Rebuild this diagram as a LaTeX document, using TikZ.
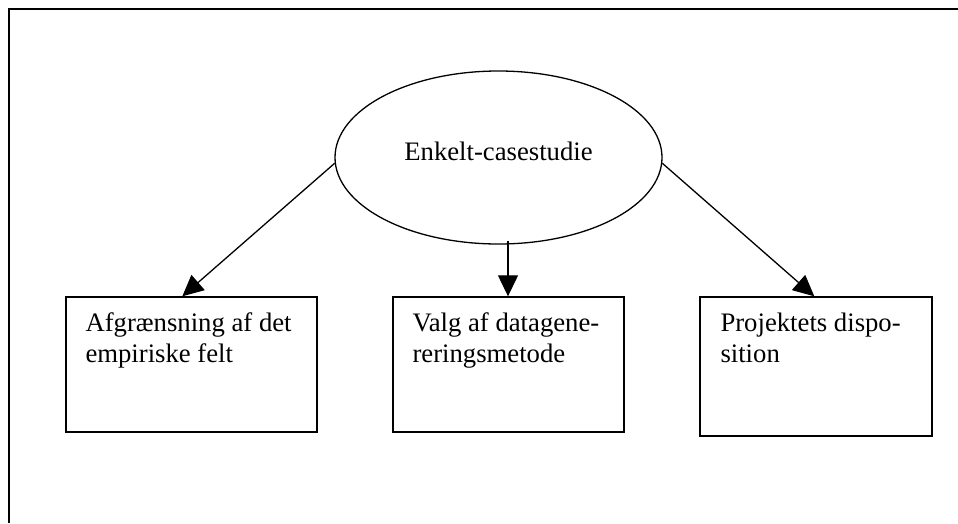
\documentclass[tikz,border=0pt]{standalone}
\usepackage{fontspec}
\setmainfont{Liberation Serif}
\usetikzlibrary{arrows.meta,shapes.geometric,calc}

\begin{document}
\begin{tikzpicture}[x=1pt,y=-1pt,
  every node/.style={font=\fontsize{26.7}{30.8}\selectfont},
  boxnode/.style={draw=black,line width=1.4pt,rectangle,inner sep=0pt},
  boxtext/.style={anchor=base west,align=left,inner sep=0pt},
  arr/.style={draw=black,line width=1.3pt,-{Triangle[length=21pt,width=20pt]}}
]
\useasboundingbox (0,0) rectangle (958,523);

% outer frame (top and left edges)
\draw[line width=1.7pt] (958,9) -- (9,9) -- (9,523);

% central ellipse
\node[draw=black,line width=1.3pt,ellipse,minimum width=327pt,minimum height=173pt,inner sep=0pt]
  (ell) at (498.5,157.5) {};
\node[anchor=base,inner sep=0pt] (elltext) at ($(ell.center)+(0,2.5)$) {Enkelt-casestudie};

% three boxes
\node[boxnode,minimum width=251pt,minimum height=135pt] (lbox) at (191.5,364.5) {};
\node[boxnode,minimum width=231pt,minimum height=135pt] (mbox) at (508.5,364.5) {};
\node[boxnode,minimum width=232pt,minimum height=139pt] (rbox) at (816,366.5) {};

% two-line labels; the base anchor sits on the second line
\node[boxtext] (ltext) at ($(lbox.north west)+(20,66)$) {Afgrænsning af det\\empiriske felt};
\node[boxtext] (mtext) at ($(mbox.north west)+(20,66)$) {Valg af datagene-\\reringsmetode};
\node[boxtext] (rtext) at ($(rbox.north west)+(21,66)$) {Projektets dispo-\\sition};

% connectors
\coordinate (ltip) at ($(lbox.north west)+(117,0)$);
\coordinate (rtip) at ($(rbox.north west)+(115,0)$);
\coordinate (mstart) at ($(ell.south)+(9.5,-4)$);
\draw[arr] (ell.182) -- (ltip);
\draw[arr] (ell.-2) -- (rtip);
\draw[arr] (mstart) -- (mstart |- mbox.north);
\end{tikzpicture}
\end{document}
